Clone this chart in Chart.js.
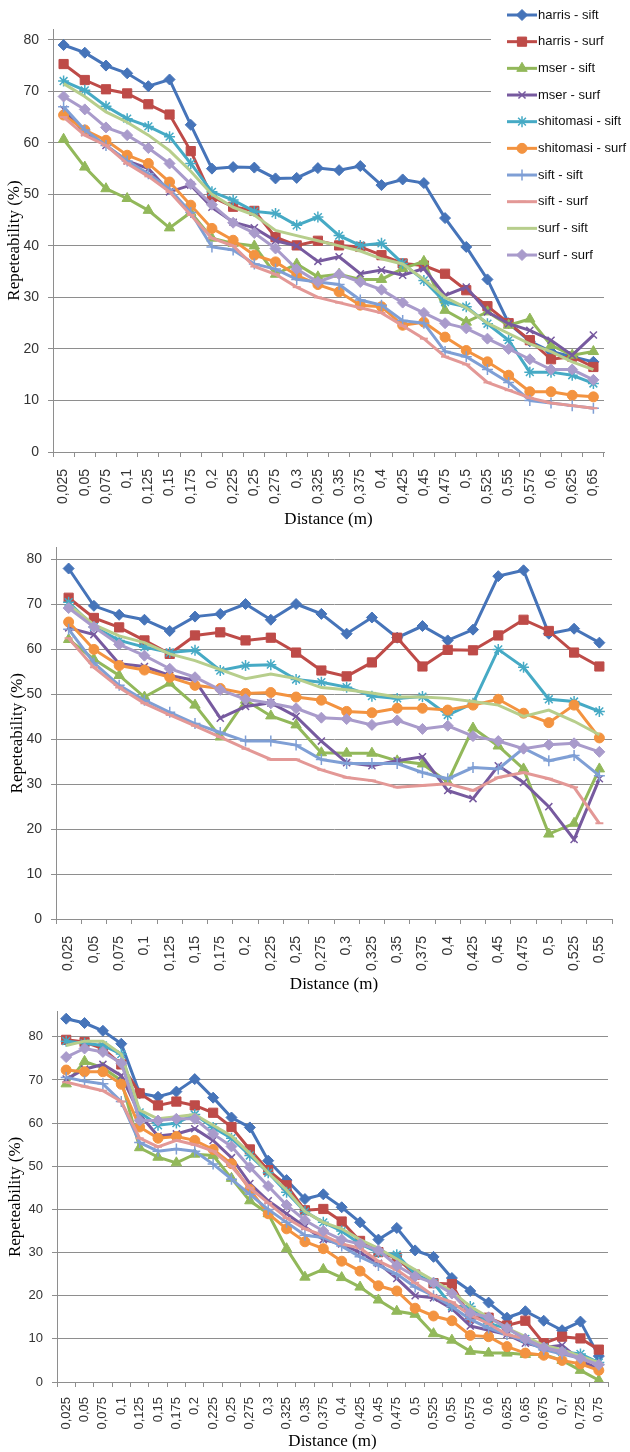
<!DOCTYPE html>
<html>
<head>
<meta charset="utf-8">
<script src="https://cdn.jsdelivr.net/npm/chart.js@4.4.1/dist/chart.umd.min.js"></script>
<style>
  html, body { margin: 0; padding: 0; background: #fff; }
  .box { position: absolute; left: 0; width: 630px; }
</style>
</head>
<body>
<div class="box" style="top:0;height:530px"><canvas id="c1"></canvas></div>
<div class="box" style="top:530px;height:465px"><canvas id="c2"></canvas></div>
<div class="box" style="top:995px;height:457px"><canvas id="c3"></canvas></div>
<script>
/* ---------- series ---------- */
const seriesNames = ["harris - sift", "harris - surf", "mser - sift", "mser - surf", "shitomasi - sift",
  "shitomasi - surf", "sift - sift", "sift - surf", "surf - sift", "surf - surf"];

/* ---------- tick labels ---------- */
const distA = ["0,025","0,05","0,075","0,1","0,125","0,15","0,175","0,2","0,225","0,25","0,275","0,3","0,325",
  "0,35","0,375","0,4","0,425","0,45","0,475","0,5","0,525","0,55","0,575","0,6","0,625","0,65"];
const distB = ["0,025","0,05","0,075","0,1","0,125","0,15","0,175","0,2","0,225","0,25","0,275","0,3","0,325",
  "0,35","0,375","0,4","0,425","0,45","0,475","0,5","0,525","0,55"];
const distC = ["0,025","0,05","0,075","0,1","0,125","0,15","0,175","0,2","0,225","0,25","0,275","0,3","0,325",
  "0,35","0,375","0,4","0,425","0,45","0,475","0,5","0,525","0,55","0,575","0,6","0,625","0,65","0,675",
  "0,7","0,725","0,75"];

/* ---------- chart 1 ---------- */
const a_harrisSift = [79.0, 77.5, 75.0, 73.5, 71.0, 72.3, 63.5, 55.0, 55.3, 55.2, 53.1, 53.2, 55.1, 54.7, 55.5, 51.8, 52.9, 52.2, 45.4, 39.8, 33.5, 25.0, 21.5, 19.5, 18.5, 17.5];
const a_harrisSurf = [75.3, 72.2, 70.4, 69.6, 67.5, 65.5, 58.4, 49.5, 47.6, 46.8, 41.7, 40.1, 41.0, 40.1, 39.8, 38.2, 36.6, 36.2, 34.6, 31.4, 28.3, 25.0, 21.7, 18.0, 18.5, 16.5];
const a_mserSift = [60.7, 55.3, 51.1, 49.2, 46.9, 43.5, 46.5, 41.5, 40.5, 40.0, 34.5, 36.5, 34.0, 34.5, 33.5, 33.5, 35.6, 37.0, 27.5, 25.2, 27.2, 24.6, 25.8, 20.7, 18.8, 19.5];
const a_mserSurf = [66.5, 62.0, 59.5, 56.5, 55.0, 50.5, 51.8, 47.5, 44.6, 43.5, 41.0, 40.0, 37.0, 37.9, 34.6, 35.3, 34.3, 35.6, 30.4, 32.0, 27.2, 24.9, 23.6, 21.7, 18.8, 22.7];
const a_shiSift = [72.0, 70.2, 67.1, 64.7, 63.2, 61.2, 56.0, 50.5, 48.9, 46.7, 46.3, 44.0, 45.6, 42.0, 40.1, 40.5, 36.6, 33.3, 29.1, 28.2, 24.9, 21.7, 15.5, 15.5, 14.9, 13.3];
const a_shiSurf = [65.4, 62.5, 60.5, 57.6, 56.0, 52.4, 47.9, 43.4, 41.1, 38.2, 36.9, 34.3, 32.5, 31.1, 28.5, 28.2, 24.6, 25.2, 22.3, 19.7, 17.5, 14.9, 11.7, 11.7, 11.0, 10.7];
const a_siftSift = [67.0, 62.5, 59.5, 56.5, 54.0, 51.0, 46.5, 39.8, 39.2, 36.5, 35.5, 33.5, 33.0, 32.5, 29.5, 28.5, 25.5, 25.0, 19.5, 18.5, 16.0, 13.5, 10.0, 9.5, 9.0, 8.5];
const a_siftSurf = [65.0, 61.5, 59.5, 56.0, 53.5, 50.5, 46.0, 41.5, 40.0, 36.0, 34.5, 32.0, 30.0, 29.0, 28.0, 27.0, 24.5, 22.0, 18.5, 17.0, 13.5, 12.0, 10.5, 9.5, 9.0, 8.5];
const a_surfSift = [71.5, 69.0, 66.0, 64.0, 61.5, 58.5, 54.5, 50.0, 47.5, 46.0, 43.0, 42.0, 41.0, 40.0, 39.0, 37.5, 36.5, 33.5, 30.0, 28.0, 25.0, 23.0, 21.0, 19.5, 17.5, 16.0];
const a_surfSurf = [69.0, 66.5, 63.0, 61.5, 59.0, 56.0, 52.0, 48.0, 44.5, 42.5, 39.5, 35.5, 33.0, 34.5, 33.0, 31.5, 29.0, 27.0, 25.0, 24.0, 22.0, 20.0, 18.0, 16.0, 16.0, 14.0];

/* ---------- chart 2 ---------- */
const b_harrisSift = [78.0, 69.7, 67.7, 66.6, 64.1, 67.3, 67.9, 70.1, 66.6, 70.1, 67.9, 63.5, 67.1, 62.6, 65.2, 62.0, 64.4, 76.3, 77.6, 63.5, 64.6, 61.5];
const b_harrisSurf = [71.5, 67.0, 64.9, 62.0, 59.0, 63.1, 63.8, 62.0, 62.6, 59.3, 55.3, 54.0, 57.1, 62.6, 56.2, 59.9, 59.8, 63.1, 66.6, 64.1, 59.3, 56.2];
const b_mserSift = [62.2, 57.8, 54.2, 49.4, 52.5, 47.6, 40.5, 48.7, 45.2, 43.2, 37.0, 36.9, 36.9, 35.2, 34.5, 30.5, 42.5, 38.5, 33.4, 18.9, 21.3, 33.4];
const b_mserSurf = [64.8, 63.3, 56.8, 56.2, 54.2, 53.1, 44.7, 47.3, 48.1, 45.1, 39.6, 34.8, 34.1, 35.2, 36.1, 28.6, 26.8, 34.1, 30.4, 25.0, 17.7, 31.2];
const b_shiSift = [70.5, 65.0, 62.0, 60.5, 59.3, 59.8, 55.3, 56.4, 56.6, 53.3, 52.7, 51.6, 49.6, 49.1, 49.5, 45.4, 48.0, 60.0, 56.0, 48.9, 48.4, 46.2];
const b_shiSurf = [66.1, 60.0, 56.4, 55.4, 53.8, 52.0, 51.3, 50.2, 50.4, 49.4, 48.7, 46.2, 45.9, 46.9, 46.9, 46.5, 47.6, 48.9, 45.8, 43.7, 47.6, 40.3];
const b_siftSift = [64.5, 57.0, 52.0, 48.7, 46.0, 43.5, 41.5, 39.6, 39.6, 38.7, 35.5, 34.6, 34.6, 34.6, 32.6, 31.2, 33.7, 33.4, 38.0, 35.2, 36.4, 31.9];
const b_siftSurf = [62.5, 56.0, 51.5, 48.0, 45.4, 43.0, 40.5, 37.9, 35.5, 35.5, 33.2, 31.5, 30.8, 29.3, 29.7, 30.1, 28.6, 31.5, 32.6, 31.2, 29.3, 21.3];
const b_surfSift = [70.0, 65.5, 63.0, 61.5, 59.0, 57.5, 55.5, 53.5, 54.5, 53.5, 51.5, 51.0, 50.3, 49.4, 49.4, 49.1, 48.4, 47.6, 45.1, 46.5, 44.0, 41.0];
const b_surfSurf = [69.2, 65.0, 61.1, 58.6, 55.7, 53.8, 51.0, 48.9, 48.0, 46.9, 44.8, 44.5, 43.2, 44.2, 42.3, 43.0, 40.7, 39.6, 37.9, 38.8, 39.1, 37.2];

/* ---------- chart 3 ---------- */
const c_harrisSift = [84.2, 83.2, 81.4, 78.4, 66.9, 66.1, 67.3, 70.2, 65.9, 61.3, 59.0, 51.3, 46.8, 42.4, 43.5, 40.5, 37.0, 33.0, 35.7, 30.5, 29.0, 24.1, 21.1, 18.4, 14.9, 16.4, 14.2, 12.0, 14.0, 6.0];
const c_harrisSurf = [79.3, 78.8, 77.3, 73.6, 66.9, 64.1, 65.0, 64.1, 62.4, 59.1, 53.9, 49.1, 45.6, 39.8, 40.1, 37.2, 32.7, 30.1, 28.7, 24.9, 22.9, 22.7, 14.9, 14.9, 13.1, 14.2, 9.0, 10.5, 10.1, 7.5];
const c_mserSift = [69.1, 74.3, 72.8, 69.9, 54.3, 52.1, 50.8, 52.8, 52.5, 47.2, 42.0, 39.0, 30.9, 24.3, 26.1, 24.2, 22.0, 19.0, 16.4, 15.7, 11.2, 9.7, 7.1, 6.7, 6.7, 6.4, 6.4, 5.0, 2.7, 0.4];
const c_mserSurf = [70.2, 72.5, 73.6, 71.0, 62.0, 57.0, 57.5, 58.7, 56.0, 52.0, 46.0, 42.0, 39.0, 36.0, 33.0, 32.0, 30.0, 27.5, 24.0, 20.0, 19.5, 17.0, 13.0, 12.0, 11.0, 9.0, 8.0, 8.5, 5.0, 3.0];
const c_shiSift = [79.0, 78.5, 78.0, 76.0, 62.5, 59.5, 60.0, 62.0, 59.0, 56.5, 52.5, 48.5, 44.0, 39.5, 37.0, 35.0, 32.0, 30.0, 29.5, 25.0, 23.0, 17.5, 17.5, 13.5, 12.5, 10.0, 8.0, 7.0, 6.5, 4.5];
const c_shiSurf = [72.3, 71.9, 71.9, 69.0, 59.1, 56.5, 56.9, 56.0, 53.9, 50.6, 44.6, 39.0, 35.5, 32.5, 30.9, 28.0, 25.7, 22.3, 21.1, 17.1, 15.3, 14.2, 10.8, 10.5, 8.2, 6.7, 6.2, 5.0, 4.2, 2.7];
const c_siftSift = [70.6, 69.7, 69.1, 65.0, 55.5, 53.5, 54.0, 53.5, 50.5, 47.0, 43.5, 40.0, 37.0, 34.0, 33.5, 31.5, 29.0, 27.0, 25.0, 22.0, 20.0, 17.5, 14.5, 12.5, 11.0, 9.5, 7.5, 6.5, 5.5, 4.0];
const c_siftSurf = [69.5, 68.5, 67.5, 65.0, 56.5, 54.5, 56.0, 55.0, 53.5, 50.0, 45.0, 41.5, 38.0, 35.5, 34.0, 32.0, 31.0, 28.0, 26.0, 23.0, 20.0, 18.5, 15.5, 13.5, 11.0, 10.0, 8.0, 7.0, 5.5, 4.0];
const c_surfSift = [78.0, 79.0, 79.0, 76.0, 63.0, 61.0, 61.5, 62.0, 59.5, 57.0, 53.0, 48.5, 44.5, 39.5, 37.0, 35.5, 33.0, 31.0, 28.5, 26.0, 23.5, 21.0, 17.5, 15.0, 12.5, 10.5, 8.5, 7.5, 6.0, 4.5];
const c_surfSurf = [75.3, 77.3, 76.5, 73.9, 60.6, 60.6, 61.0, 61.0, 57.5, 54.6, 49.8, 45.4, 41.0, 37.5, 35.0, 33.0, 32.0, 30.5, 27.0, 24.5, 23.0, 20.5, 16.0, 15.0, 12.5, 10.0, 8.0, 7.0, 5.5, 4.0];

/* ---------- look ---------- */
const colors = ["#4674b9", "#be4b48", "#92b85a", "#775a9f", "#46aac5", "#f39340", "#7f9fd5", "#e39896", "#b7ce8c", "#a99bcb"];
const markers = [
  { style: "rectRot", r: 5.5, bw: 1 },
  { style: "rect", r: 6.5, bw: 1 },
  { style: "triangle", r: 6, bw: 1 },
  { style: "crossRot", r: 5, bw: 1.5 },
  { style: "star", r: 5.5, bw: 1.5 },
  { style: "circle", r: 5, bw: 1 },
  { style: "cross", r: 5.5, bw: 1.5 },
  { style: "line", r: 4, bw: 2 },
  { style: false, r: 0, bw: 0 },
  { style: "rectRot", r: 5.5, bw: 1 },
];
const gridColor = "#8e8e8e";
const sansFamily = "'Liberation Sans', Arial, sans-serif";
const titleFont = { family: "'Liberation Serif', 'Times New Roman', serif", size: 17 };

function buildDatasets(list) {
  return list.map((data, i) => ({
    label: seriesNames[i],
    data,
    borderColor: colors[i],
    backgroundColor: colors[i],
    borderWidth: 3,
    pointStyle: markers[i].style,
    pointRadius: markers[i].r,
    pointHoverRadius: markers[i].r,
    pointBorderWidth: markers[i].bw,
    pointBackgroundColor: colors[i],
    pointBorderColor: colors[i],
    tension: 0,
    order: list.length - i,   // Excel draws later series on top
  }));
}

/* legend drawn over the upper-right of the first chart */
const sideLegend = {
  id: "sideLegend",
  afterDraw(chart, args, opts) {
    if (!opts.show) return;
    const ctx = chart.ctx;
    const x0 = chart.width - 139;
    ctx.save();
    ctx.fillStyle = "#fff";
    ctx.fillRect(x0, 0, 139, 268);
    chart.data.datasets.forEach((ds, i) => {
      const y = 15 + i * 26.67;
      ctx.strokeStyle = ds.borderColor;
      ctx.lineWidth = 3;
      ctx.beginPath();
      ctx.moveTo(x0 + 16, y);
      ctx.lineTo(x0 + 46, y);
      ctx.stroke();
      if (ds.pointStyle && Chart.helpers && Chart.helpers.drawPoint) {
        ctx.fillStyle = ds.borderColor;
        ctx.lineWidth = ds.pointBorderWidth;
        Chart.helpers.drawPoint(ctx, { pointStyle: ds.pointStyle, radius: ds.pointRadius, borderWidth: ds.pointBorderWidth, rotation: 0 }, x0 + 31, y);
      }
      ctx.fillStyle = "#111";
      ctx.font = "13px " + sansFamily;
      ctx.textBaseline = "middle";
      ctx.textAlign = "left";
      ctx.fillText(ds.label, x0 + 47, y);
    });
    ctx.restore();
  },
};

function makeChart(id, labels, list, g) {
  const tickFont = { family: sansFamily, size: g.tickSize };
  return new Chart(document.getElementById(id), {
    type: "line",
    data: { labels, datasets: buildDatasets(list) },
    plugins: [sideLegend],
    options: {
      responsive: true,
      maintainAspectRatio: false,
      animation: false,
      devicePixelRatio: 1,
      layout: { padding: { top: g.padTop, right: g.padRight, left: 0, bottom: 0 } },
      plugins: { legend: { display: false }, tooltip: { enabled: false }, sideLegend: { show: g.legend } },
      scales: {
        x: {
          offset: true,
          afterFit: (s) => { s.height = g.xHeight; },
          grid: { offset: true, drawOnChartArea: false, drawTicks: true, tickLength: 5, color: gridColor },
          border: { color: gridColor },
          ticks: { autoSkip: false, minRotation: 90, maxRotation: 90, padding: g.xTickPad, color: "#333", font: tickFont },
          title: { display: true, text: "Distance (m)", color: "#000", font: titleFont, padding: { top: 0, bottom: g.xTitlePad } },
        },
        y: {
          min: 0,
          max: g.yMax,
          afterFit: (s) => { s.width = g.yWidth; },
          grid: { color: gridColor, tickLength: 5 },
          border: { color: gridColor },
          ticks: { stepSize: 10, includeBounds: false, padding: 9, color: "#333", font: tickFont },
          title: { display: true, text: "Repeteability (%)", color: "#000", font: titleFont, padding: { top: g.yTitlePad, bottom: 0 } },
        },
      },
    },
  });
}

makeChart("c1", distA, [a_harrisSift, a_harrisSurf, a_mserSift, a_mserSurf, a_shiSift, a_shiSurf, a_siftSift, a_siftSurf, a_surfSift, a_surfSurf],
  { padTop: 29, padRight: 26, xHeight: 78, yWidth: 53, yMax: 82.1, yTitlePad: 4, tickSize: 14, xTickPad: 12, xTitlePad: 0, legend: true });
makeChart("c2", distB, [b_harrisSift, b_harrisSurf, b_mserSift, b_mserSurf, b_shiSift, b_shiSurf, b_siftSift, b_siftSurf, b_surfSift, b_surfSurf],
  { padTop: 12, padRight: 18, xHeight: 76, yWidth: 56, yMax: 82.7, yTitlePad: 7, tickSize: 14, xTickPad: 12, xTitlePad: 0, legend: false });
makeChart("c3", distC, [c_harrisSift, c_harrisSurf, c_mserSift, c_mserSurf, c_shiSift, c_shiSurf, c_siftSift, c_siftSurf, c_surfSift, c_surfSurf],
  { padTop: 2, padRight: 22, xHeight: 70, yWidth: 57, yMax: 85.8, yTitlePad: 5, tickSize: 13, xTickPad: 10, xTitlePad: 0, legend: false });
</script>
</body>
</html>
